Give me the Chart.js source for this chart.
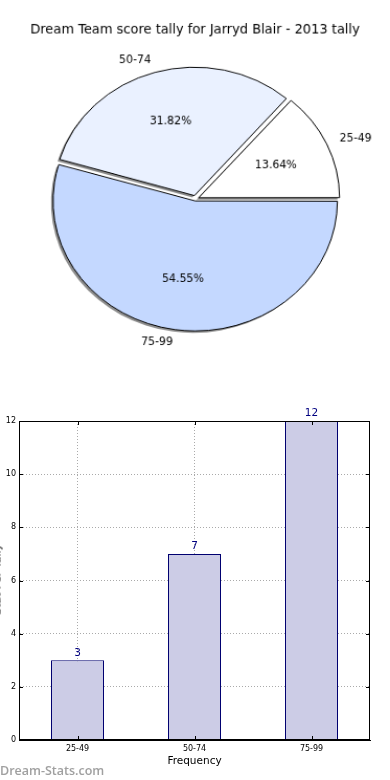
<!DOCTYPE html>
<html>
<head>
<meta charset="utf-8">
<script src="https://cdn.jsdelivr.net/npm/chart.js@4.4.0/dist/chart.umd.min.js"></script>
<style>
  body { margin: 0; background: #fff; width: 390px; height: 780px; overflow: hidden; position: relative; font-family: "DejaVu Sans", sans-serif; }
  #pieChart { position: absolute; left: 0; top: 0; }
  #barBox { position: absolute; left: 0; top: 400px; width: 390px; height: 380px; }
  .ytitle { position: absolute; left: -45px; top: 573px; width: 84px; text-align: center; font-size: 11px; color: #000; transform: rotate(-90deg); }
  .mark { position: absolute; left: 0; top: 762px; font-family: "Open Sans", sans-serif; font-weight: 600; font-size: 12.5px; color: #a0a0a0; }
</style>
</head>
<body>
<!-- pie is drawn round, then shown a bit wider than tall like the original -->
<canvas id="pieChart" width="373" height="408" style="width:390px;height:390px"></canvas>
<div id="barBox"><canvas id="barChart"></canvas></div>
<div class="ytitle">Stat Per Tally</div>
<div class="mark">Dream-Stats.com</div>
<script>
// data
var categories = ["25-49", "50-74", "75-99"];
var counts = [3, 7, 12];
var pieColors = ["#ffffff", "#eaf1ff", "#c4d8ff"];
var pieOffsets = [13, 15, 8];
var yTicks = [0, 2, 4, 6, 8, 10, 12];
var title = "Dream Team score tally for Jarryd Blair - 2013 tally";

var FONT = "DejaVu Sans";
var total = counts.reduce(function (a, b) { return a + b; }, 0);
var SX = 390 / 373, SY = 390 / 408;

// matplotlib goes counter clockwise from 3 o'clock, chart.js clockwise -> reverse
var pieLabelsArr = categories.slice().reverse();
var pieValues = counts.slice().reverse();
var pieBg = pieColors.slice().reverse();
var pieOff = pieOffsets.slice().reverse();

// text drawn so it looks unstretched after the css scaling
function flatText(ctx, str, x, y) {
  ctx.save();
  ctx.translate(x, y);
  ctx.scale(1 / SX, 1 / SY);
  ctx.fillText(str, 0, 0);
  ctx.restore();
}

// grey drop shadow under the wedge fills only
var shadowPlugin = {
  id: "shadow",
  beforeDatasetsDraw: function (chart) {
    var ctx = chart.ctx;
    ctx.save();
    ctx.shadowColor = "rgba(0,0,0,0.45)";
    ctx.shadowOffsetX = -2;
    ctx.shadowOffsetY = 2;
    ctx.shadowBlur = 0;
    var stroke = ctx.stroke;
    ctx._oldStroke = stroke;
    ctx.stroke = function () {
      var c = this.shadowColor;
      this.shadowColor = "transparent";
      stroke.apply(this, arguments);
      this.shadowColor = c;
    };
  },
  afterDatasetsDraw: function (chart) {
    var ctx = chart.ctx;
    ctx.stroke = ctx._oldStroke;
    ctx.restore();
  },
};

var pieText = {
  id: "pieText",
  afterDraw: function (chart) {
    var ctx = chart.ctx;
    var meta = chart.getDatasetMeta(0);
    ctx.save();
    ctx.fillStyle = "#000";
    ctx.textBaseline = "middle";
    ctx.textAlign = "center";
    ctx.font = "13px '" + FONT + "'";
    flatText(ctx, title, 195 / SX, 30 / SY);
    ctx.font = "11px '" + FONT + "'";
    meta.data.forEach(function (arc, i) {
      var p = arc.getProps(["x", "y", "startAngle", "endAngle", "outerRadius"], true);
      var mid = (p.startAngle + p.endAngle) / 2;
      var circ = p.endAngle - p.startAngle;
      // same shift as the arc element uses for its offset
      var off = (arc.options.offset || 0) / 4;
      var shift = off * (2 - Math.sin(Math.min(Math.PI, circ)));
      var cx = p.x + Math.cos(mid) * shift;
      var cy = p.y + Math.sin(mid) * shift;
      var v = pieValues[i];
      ctx.textAlign = "center";
      flatText(ctx, (v / total * 100).toFixed(2) + "%", cx + Math.cos(mid) * p.outerRadius * 0.6, cy + Math.sin(mid) * p.outerRadius * 0.6);
      ctx.textAlign = Math.cos(mid) > 0 ? "left" : "right";
      flatText(ctx, pieLabelsArr[i], cx + Math.cos(mid) * p.outerRadius * 1.1, cy + Math.sin(mid) * p.outerRadius * 1.1);
    });
    ctx.restore();
  },
};

new Chart(document.getElementById("pieChart"), {
  type: "pie",
  data: {
    labels: pieLabelsArr,
    datasets: [{
      data: pieValues,
      backgroundColor: pieBg,
      borderColor: "#000",
      borderWidth: 1,
      offset: pieOff,
    }],
  },
  options: {
    responsive: false,
    animation: false,
    events: [],
    rotation: 90,
    radius: 134,
    layout: { padding: { left: 1, right: 0, top: 8.4, bottom: 0 } },
    plugins: {
      legend: { display: false },
      tooltip: { enabled: false },
    },
  },
  plugins: [shadowPlugin, pieText],
});

// bar chart
var barText = {
  id: "barText",
  afterDraw: function (chart) {
    var ctx = chart.ctx;
    var a = chart.chartArea;
    var xs = chart.scales.x, ys = chart.scales.y;
    ctx.save();
    // frame round the plot, with small inward ticks
    ctx.strokeStyle = "#000";
    ctx.lineWidth = 1;
    ctx.strokeRect(a.left + 0.5, a.top + 0.5, a.right - a.left - 1, a.bottom - a.top - 1);
    ctx.beginPath();
    yTicks.forEach(function (v) {
      var y = Math.round(ys.getPixelForValue(v)) + 0.5;
      ctx.moveTo(a.left, y); ctx.lineTo(a.left + 4, y);
      ctx.moveTo(a.right, y); ctx.lineTo(a.right - 4, y);
    });
    categories.forEach(function (c, i) {
      var x = Math.round(xs.getPixelForValue(i)) + 0.5;
      ctx.moveTo(x, a.bottom); ctx.lineTo(x, a.bottom - 4);
      ctx.moveTo(x, a.top); ctx.lineTo(x, a.top + 4);
    });
    ctx.stroke();
    ctx.fillStyle = "#000080";
    ctx.font = "10.5px '" + FONT + "'";
    ctx.textAlign = "center";
    ctx.textBaseline = "bottom";
    chart.getDatasetMeta(0).data.forEach(function (bar, i) {
      ctx.fillText(String(counts[i]), bar.x, bar.y - 2);
    });
    ctx.restore();
  },
};

new Chart(document.getElementById("barChart"), {
  type: "bar",
  data: {
    labels: categories,
    datasets: [{
      data: counts,
      backgroundColor: "#ccccE6",
      borderColor: "#000070",
      borderWidth: 1,
      barPercentage: 0.453,
      categoryPercentage: 1,
    }],
  },
  options: {
    responsive: true,
    maintainAspectRatio: false,
    animation: false,
    events: [],
    layout: { padding: { left: 0, right: 20, top: 21, bottom: 0 } },
    plugins: { legend: { display: false }, tooltip: { enabled: false } },
    scales: {
      x: {
        grid: { offset: false, color: "#aaa", drawTicks: false },
        border: { display: true, color: "#000", dash: [1, 2] },
        ticks: { color: "#000", font: { family: FONT, size: 8 }, padding: 4 },
        title: {
          display: true, text: "Frequency", color: "#000",
          font: { family: FONT, size: 10.5 }, padding: { top: 0, bottom: 12.7 },
        },
        afterFit: function (s) { s.height = 40; },
      },
      y: {
        min: 0,
        max: 12,
        afterBuildTicks: function (s) { s.ticks = yTicks.map(function (v) { return { value: v }; }); },
        grid: { color: "#aaa", drawTicks: false },
        border: { display: true, color: "#000", dash: [1, 2] },
        ticks: { color: "#000", font: { family: FONT, size: 8 }, padding: 3 },
        afterFit: function (s) { s.width = 19; },
      },
    },
  },
  plugins: [barText],
});
</script>
</body>
</html>
